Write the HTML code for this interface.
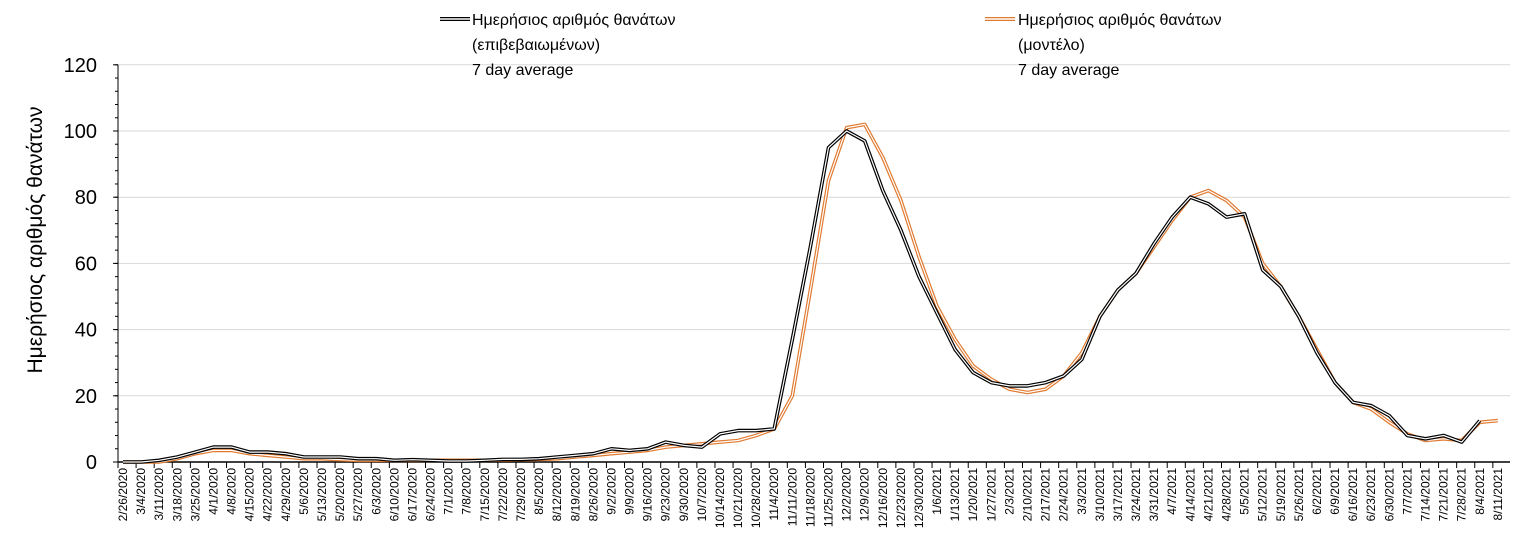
<!DOCTYPE html>
<html><head><meta charset="utf-8"><style>
body{margin:0;background:#fff;}
svg text{font-family:"Liberation Sans",sans-serif;}
</style></head><body>
<svg id="chart" width="1534" height="553" xmlns="http://www.w3.org/2000/svg">
<g id="grid"></g><g id="axes"></g><g id="series"></g>
<g>
 <g>
  <line x1="440" y1="19" x2="470" y2="19" stroke="#000" stroke-width="4"/>
  <line x1="440" y1="19" x2="470" y2="19" stroke="#fff" stroke-width="1.5"/>
  <text x="472" y="25" font-size="16">Ημερήσιος αριθμός θανάτων</text>
  <text x="472" y="50" font-size="16">(επιβεβαιωμένων)</text>
  <text x="472" y="75" font-size="16">7 day average</text>
 </g>
 <g>
  <line x1="985" y1="19" x2="1015" y2="19" stroke="#e07a30" stroke-width="4"/>
  <line x1="985" y1="19" x2="1015" y2="19" stroke="#fff" stroke-width="1.5"/>
  <text x="1018" y="25" font-size="16">Ημερήσιος αριθμός θανάτων</text>
  <text x="1018" y="50" font-size="16">(μοντέλο)</text>
  <text x="1018" y="75" font-size="16">7 day average</text>
 </g>
</g>
<text transform="translate(42,240) rotate(-90)" text-anchor="middle" font-size="21">Ημερήσιος αριθμός θανάτων</text>
</svg>
<script>
const yTicks=[0,20,40,60,80,100,120];
const startDate=[2020,2,26];
const confirmed=[0,0,0.5,1.5,3,4.5,4.5,3,3,2.5,1.5,1.5,1.5,1,1,0.5,0.7,0.5,0.3,0.3,0.5,0.8,0.8,1,1.5,2,2.5,4,3.5,4,6,5,4.5,8.5,9.5,9.5,10,37,65,95,100,97,82,70,56,45,34,27,24,23,23,24,26,31,44,52,57,66,74,80,78,74,75,58,53,44,33,24,18,17,14,8,7,8,6,12.5];
const model=[0,0,0,1,2.5,3.5,3.5,2.5,2,1.5,1,1,0.7,0.5,0.5,0.5,0.5,0.5,0.5,0.5,0.5,0.6,0.7,0.8,1,1.5,2,2.5,3,3.5,4.5,5,5.5,6,6.5,8,10,20,52,85,101,102,92,79,62,47,37,29,25,22,21,22,26,33,44,52,57,65,73,80,82,79,74,60,53,44,34,24,18,16,12,8.5,6.5,7,6.5,12,12.5];
const NS='http://www.w3.org/2000/svg';
const x0=123,wk=18.09,yb=462,py=3.31,xl=118,xr=1510;
const X=k=>x0+wk*k, Y=v=>yb-v*py;
function mk(t,a,p){const e=document.createElementNS(NS,t);for(const k in a)e.setAttribute(k,a[k]);p.appendChild(e);return e;}
const grid=document.getElementById('grid'),axes=document.getElementById('axes'),ser=document.getElementById('series');
yTicks.forEach(v=>{
 if(v>0){const g=mk('line',{x1:xl,x2:xr,y1:Y(v),y2:Y(v),stroke:'#d9d9d9','stroke-width':1},grid);
 
 }
 const t=mk('text',{x:97,y:Y(v)+7,'text-anchor':'end','font-size':20},axes);t.textContent=v;
 
 
 mk('line',{x1:xl-5,x2:xl,y1:Y(v),y2:Y(v),stroke:'#000'},axes);
});
for(let v=0;v<=120;v+=4)mk('line',{x1:xl-3,x2:xl,y1:Y(v),y2:Y(v),stroke:'#000'},axes);
const ya=mk('line',{x1:xl,x2:xl,y1:Y(120),y2:yb,stroke:'#000','stroke-width':1},axes);


const xa=mk('line',{x1:xl,x2:xr,y1:yb,y2:yb,stroke:'#000','stroke-width':1.5},axes);


const d0=new Date(startDate[0],startDate[1]-1,startDate[2]);
for(let k=0;k<=76;k++){
 const d=new Date(d0.getTime()+k*7*86400000+3600000);
 const lab=(d.getMonth()+1)+'/'+d.getDate()+'/'+d.getFullYear();
 const x=X(k);
 mk('line',{x1:x-5,x2:x-5,y1:yb,y2:yb+6,stroke:'#000'},axes);
 const t=mk('text',{transform:`translate(${x+4},${yb+6}) rotate(-90)`,'text-anchor':'end','font-size':12},axes);
 t.textContent=lab;
 
 
}
function draw(arr,col,name){
 const pts=arr.map((v,i)=>X(i).toFixed(1)+','+Y(v).toFixed(1)).join(' ');
 const g=mk('g',{},ser);
 
 
 mk('polyline',{points:pts,fill:'none',stroke:col,'stroke-width':3.6,'stroke-linejoin':'round'},g);
 mk('polyline',{points:pts,fill:'none',stroke:'#fff','stroke-width':1.2,'stroke-linejoin':'round'},g);
}
draw(model,'#e07a30','series-model');
draw(confirmed,'#000','series-confirmed');
</script>
</body></html>
